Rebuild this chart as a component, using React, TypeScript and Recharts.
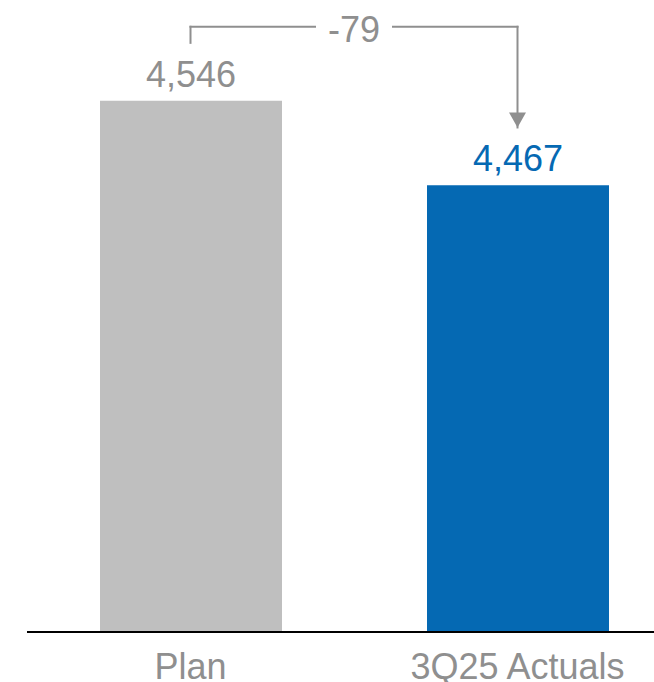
import { BarChart, Bar, XAxis, YAxis, Cell, LabelList, ReferenceLine } from "recharts"

const categories = ["Plan", "3Q25 Actuals"]
const values = [4546, 4467]
const yDomain = [4050, 4640]

const BAR_COLORS = ["#bfbfbf", "#0569b3"]
const LABEL_COLORS = ["#8f8f8f", "#0569b3"]
const GREY = "#8f8f8f"
const FONT = "'Liberation Sans', Arial, sans-serif"

const data = categories.map((name, i) => ({ name, value: values[i] }))

// bracket levels for the variance arrow, in value units
const plan = values[0]
const actual = values[1]
const delta = actual - plan
const bracketLevel = plan + 69
const bracketStart = plan + 54
const arrowTip = actual + 54

const fmt = (v: number) => v.toLocaleString("en-US")

const ValueLabel = (props: any) => {
    const { x, y, width, value } = props
    const i = values.indexOf(Number(value))
    return (
        <text x={x + width / 2} y={y - 14} textAnchor="middle" fontSize={36} fontFamily={FONT} fill={LABEL_COLORS[i]}>
            {fmt(value)}
        </text>
    )
}

const Tick = (props: any) => {
    const { x, y, payload } = props
    return (
        <text x={x} y={y + 47} textAnchor="middle" fontSize={36} fontFamily={FONT} fill={GREY}>
            {payload.value}
        </text>
    )
}

const DeltaLabel = (props: any) => {
    const vb = props.viewBox || {}
    const cx = vb.x + vb.width / 2
    return (
        <g>
            <rect x={cx - 38} y={vb.y - 16} width={76} height={32} fill="#fff" />
            <text x={cx} y={vb.y + 15} textAnchor="middle" fontSize={36} fontFamily={FONT} fill={GREY}>
                {delta}
            </text>
        </g>
    )
}

const ArrowHead = (props: any) => {
    const vb = props.viewBox || {}
    const cx = vb.x + vb.width / 2
    const tip = vb.y + vb.height
    return <polygon points={`${cx - 8.5},${tip - 15} ${cx + 8.5},${tip - 15} ${cx},${tip}`} fill={GREY} />
}

export default function App() {
    return (
        <div style={{ position: "absolute", left: 0, top: 0, width: 654, height: 682, overflow: "hidden", background: "#fff" }}>
            <BarChart width={681} height={682} data={data} margin={{ top: 0, right: 0, left: 27, bottom: 0 }}>
                <XAxis
                    dataKey="name"
                    height={50}
                    tickLine={false}
                    tickSize={0}
                    tickMargin={0}
                    axisLine={{ stroke: "#000", strokeWidth: 2 }}
                    tick={<Tick />}
                    interval={0}
                />
                <YAxis hide domain={yDomain} allowDataOverflow />
                <Bar dataKey="value" barSize={182} isAnimationActive={false}>
                    {data.map((_, i) => (
                        <Cell key={i} fill={BAR_COLORS[i]} />
                    ))}
                    <LabelList dataKey="value" content={<ValueLabel />} />
                </Bar>
                <ReferenceLine
                    segment={[{ x: categories[0], y: bracketStart }, { x: categories[0], y: bracketLevel }]}
                    stroke={GREY}
                    strokeWidth={2}
                    strokeLinecap="square"
                />
                <ReferenceLine
                    segment={[{ x: categories[0], y: bracketLevel }, { x: categories[1], y: bracketLevel }]}
                    stroke={GREY}
                    strokeWidth={2}
                    strokeLinecap="square"
                    label={DeltaLabel}
                />
                <ReferenceLine
                    segment={[{ x: categories[1], y: bracketLevel }, { x: categories[1], y: arrowTip }]}
                    stroke={GREY}
                    strokeWidth={2}
                    strokeLinecap="square"
                    label={ArrowHead}
                />
            </BarChart>
        </div>
    )
}
